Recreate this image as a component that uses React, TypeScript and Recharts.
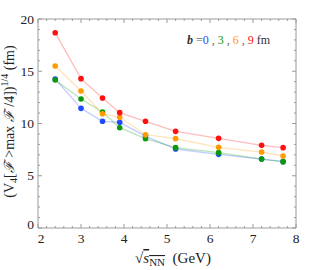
import React from 'react';
import { LineChart, Line, XAxis, YAxis, ReferenceLine, Customized } from 'recharts';

// sqrt(s_NN) in GeV
const energies = [2.4, 3.0, 3.5, 3.9, 4.5, 5.2, 6.2, 7.2, 7.7];
// (V4[F > max F/4])^(1/4) in fm, one array per impact parameter
const b0 = [14.26, 11.45, 10.21, 10.11, 8.8, 7.56, 7.05, 6.6, 6.35];
const b3 = [14.16, 12.34, 11.1, 9.6, 8.55, 7.69, 7.21, 6.6, 6.35];
const b6 = [15.5, 13.11, 10.94, 10.59, 8.93, 8.55, 7.72, 7.27, 6.89];
const b9 = [18.69, 14.29, 12.44, 11.04, 10.21, 9.25, 8.58, 7.91, 7.69];

const xMajor = [2, 3, 4, 5, 6, 7, 8];
const yMajor = [0, 5, 10, 15, 20];

const series = [
  { key: 'b0', label: '0', color: '#1e4bff', values: b0 },
  { key: 'b3', label: '3', color: '#0a9a0a', values: b3 },
  { key: 'b6', label: '6', color: '#ff9a00', values: b6 },
  { key: 'b9', label: '9', color: '#ff1010', values: b9 },
];

const data = energies.map((e, i) => {
  const row: Record<string, number> = { e };
  series.forEach((s) => (row[s.key] = s.values[i]));
  return row;
});

// minor ticks every 0.2 on x, every 1 on y
const xTicks: number[] = [];
for (let i = 0; i <= 30; i++) xTicks.push(Math.round((2 + i * 0.2) * 10) / 10);
const yTicks: number[] = [];
for (let i = 0; i <= 20; i++) yTicks.push(i);

const W = 316;
const H = 270;
const TOP = 19;
const LEFT = 38;
const RIGHT = 296;
const BOTTOM = 228;
const FRAME = '#9a9a9a';
const FONT = '"Liberation Serif", "DejaVu Serif", serif';
const TEXT = '#222';

const XTick = (props: any) => {
  const { x, y, payload } = props;
  const v = payload.value;
  const major = xMajor.includes(v);
  const len = major ? 4 : 2;
  return (
    <g>
      <line x1={x} x2={x} y1={y} y2={y - len} stroke={FRAME} />
      <line x1={x} x2={x} y1={TOP} y2={TOP + len} stroke={FRAME} />
      {major && (
        <text x={v === 2 ? x + 3 : x} y={y + 15} textAnchor="middle" fontFamily={FONT} fontSize={13.5} fill={TEXT}>
          {v}
        </text>
      )}
    </g>
  );
};

const YTick = (props: any) => {
  const { x, y, payload } = props;
  const v = payload.value;
  const major = yMajor.includes(v);
  const len = major ? 4 : 2;
  return (
    <g>
      <line x1={x} x2={x + len} y1={y} y2={y} stroke={FRAME} />
      <line x1={RIGHT} x2={RIGHT - len} y1={y} y2={y} stroke={FRAME} />
      {major && (
        <text x={x - 4} y={v === 0 ? y + 1 : y + 4.5} textAnchor="end" fontFamily={FONT} fontSize={13.5} fill={TEXT}>
          {v}
        </text>
      )}
    </g>
  );
};

const Labels = () => (
  <g fontFamily={FONT} fill={TEXT}>
    <text
      transform="rotate(-90)"
      x={-(TOP + BOTTOM) / 2 + 2}
      y={14}
      textAnchor="middle"
      fontSize={14}
    >
      (V<tspan fontSize={10} dy={3}>4</tspan>
      <tspan dy={-3}>[</tspan>
      <tspan fontStyle="italic">ℱ</tspan>
      {' >max '}
      <tspan fontStyle="italic">ℱ</tspan>
      {' /4])'}
      <tspan fontSize={10} dy={-6}>1/4</tspan>
      <tspan dy={6}> (fm)</tspan>
    </text>
    <text x={173} y={263} textAnchor="middle" fontSize={15}>
      √
      <tspan fontStyle="italic" textDecoration="overline">s</tspan>
      <tspan fontSize={11} dy={3} textDecoration="overline">NN</tspan>
      <tspan dy={-3}>{'\u00a0\u00a0(GeV)'}</tspan>
    </text>
    <text x={187} y={44} fontSize={12}>
      <tspan fontStyle="italic" fontWeight="bold" fill="#333">b</tspan>
      <tspan fill="#666">{' ='}</tspan>
      {series.map((s, i) => (
        <React.Fragment key={s.key}>
          <tspan fill={s.color}>{s.label}</tspan>
          {i < series.length - 1 ? <tspan fill="#666">{' , '}</tspan> : null}
        </React.Fragment>
      ))}
      <tspan fill="#333">{'  fm'}</tspan>
    </text>
  </g>
);

export default function App() {
  return (
    <div style={{ position: 'absolute', left: 0, top: 0, background: '#fff' }}>
      <LineChart width={W} height={H} data={data} margin={{ top: TOP, right: W - RIGHT, bottom: 0, left: 0 }}>
        <XAxis
          dataKey="e"
          type="number"
          domain={[2, 8]}
          ticks={xTicks}
          interval={0}
          height={H - BOTTOM}
          tickSize={0}
          tickMargin={0}
          tickLine={false}
          axisLine={{ stroke: FRAME }}
          tick={<XTick />}
        />
        <YAxis
          type="number"
          domain={[0, 20]}
          ticks={yTicks}
          interval={0}
          width={LEFT}
          tickSize={0}
          tickMargin={0}
          tickLine={false}
          axisLine={{ stroke: FRAME }}
          tick={<YTick />}
        />
        <ReferenceLine y={20} stroke={FRAME} />
        <ReferenceLine x={8} stroke={FRAME} />
        {series.map((s) => (
          <Line
            key={s.key}
            dataKey={s.key}
            type="linear"
            stroke={s.color}
            strokeOpacity={0.28}
            strokeWidth={1.3}
            dot={{ r: 2.8, fill: s.color, stroke: 'none', fillOpacity: 1 }}
            isAnimationActive={false}
          />
        ))}
        <Customized component={Labels} />
      </LineChart>
    </div>
  );
}
